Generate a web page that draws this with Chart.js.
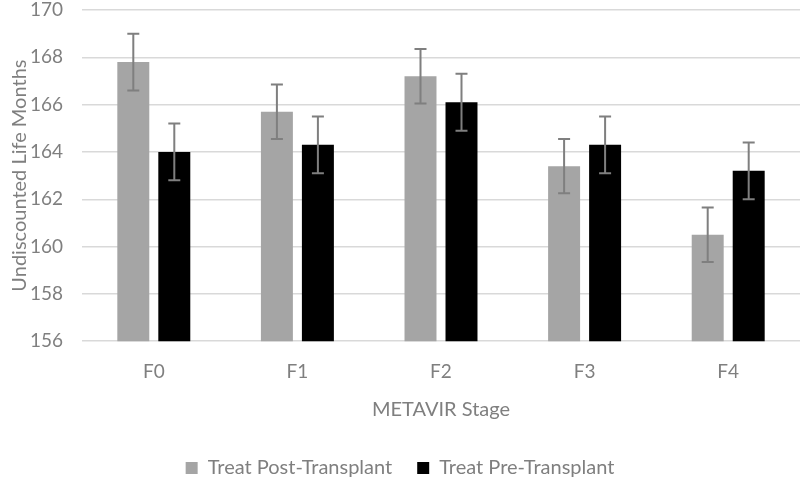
<!DOCTYPE html>
<html>
<head>
<meta charset="utf-8">
<style>
  html, body { margin: 0; padding: 0; background: #fff; }
  #wrap { width: 800px; height: 477px; }
</style>
</head>
<body>
<div id="wrap"><canvas id="lifeChart" width="800" height="477"></canvas></div>

<script src="https://cdn.jsdelivr.net/npm/chart.js"></script>
<script>
// METAVIR stages on the x axis
const stages = ['F0', 'F1', 'F2', 'F3', 'F4'];

// undiscounted life months
const postTransplant = [167.8, 165.7, 167.2, 163.4, 160.5];
const preTransplant = [164.0, 164.3, 166.1, 164.3, 163.2];

// half-width of the error bars
const postErr = [1.2, 1.15, 1.15, 1.15, 1.15];
const preErr = [1.2, 1.2, 1.2, 1.2, 1.2];

const textGray = '#7f7f7f';
const fontFamily = 'Lato, "Open Sans", sans-serif';

// draws the whisker + caps on top of every bar
const errorBars = {
  id: 'errorBars',
  afterDatasetsDraw(chart) {
    const ctx = chart.ctx;
    const y = chart.scales.y;
    ctx.save();
    ctx.strokeStyle = '#7f7f7f';
    ctx.lineWidth = 2;
    chart.data.datasets.forEach((ds, i) => {
      const meta = chart.getDatasetMeta(i);
      meta.data.forEach((bar, j) => {
        const v = ds.data[j];
        const e = ds.errors[j];
        const top = y.getPixelForValue(v + e);
        const bot = y.getPixelForValue(v - e);
        ctx.beginPath();
        ctx.moveTo(bar.x, top);
        ctx.lineTo(bar.x, bot);
        ctx.moveTo(bar.x - 6, top);
        ctx.lineTo(bar.x + 6, top);
        ctx.moveTo(bar.x - 6, bot);
        ctx.lineTo(bar.x + 6, bot);
        ctx.stroke();
      });
    });
    ctx.restore();
  }
};

// push the legend down towards the bottom edge
const legendDown = {
  id: 'legendDown',
  beforeDraw(chart) {
    const lg = chart.legend;
    if (lg) {
      const shift = 433 - lg.top;
      lg.top += shift;
      lg.bottom += shift;
    }
  }
};

new Chart(document.getElementById('lifeChart').getContext('2d'), {
  type: 'bar',
  data: {
    labels: stages,
    datasets: [{
      label: 'Treat Post-Transplant',
      data: postTransplant,
      errors: postErr,
      backgroundColor: '#a5a5a5',
      categoryPercentage: 0.571,
      barPercentage: 0.78
    }, {
      label: 'Treat Pre-Transplant',
      data: preTransplant,
      errors: preErr,
      backgroundColor: '#000000',
      categoryPercentage: 0.571,
      barPercentage: 0.78
    }]
  },
  options: {
    responsive: false,
    animation: false,
    layout: { padding: { left: 0, right: 0, top: 10, bottom: 0 } },
    plugins: {
      tooltip: { enabled: false },
      legend: {
        position: 'bottom',
        labels: {
          color: textGray,
          boxWidth: 12,
          boxHeight: 12,
          padding: 25,
          font: { family: fontFamily, size: 20 }
        }
      }
    },
    scales: {
      x: {
        grid: { display: false, drawTicks: false },
        border: { display: false },
        ticks: { color: textGray, padding: 19, font: { family: fontFamily, size: 19 } },
        title: {
          display: true,
          text: 'METAVIR Stage',
          color: textGray,
          padding: { top: -4, bottom: 0 },
          font: { family: fontFamily, size: 20 }
        }
      },
      y: {
        min: 156,
        max: 170,
        afterFit(scale) {
          scale.width = 82;
          scale.paddingTop = 0;
          scale.paddingBottom = 0;
        },
        ticks: { stepSize: 2, color: textGray, padding: 19, font: { family: fontFamily, size: 19 } },
        grid: { color: '#d9d9d9', lineWidth: 1.5, drawTicks: false },
        border: { display: false },
        title: {
          display: true,
          text: 'Undiscounted Life Months',
          color: textGray,
          padding: { top: 8, bottom: 2 },
          font: { family: fontFamily, size: 20 }
        }
      }
    }
  },
  plugins: [errorBars, legendDown]
});
</script>
</body>
</html>
